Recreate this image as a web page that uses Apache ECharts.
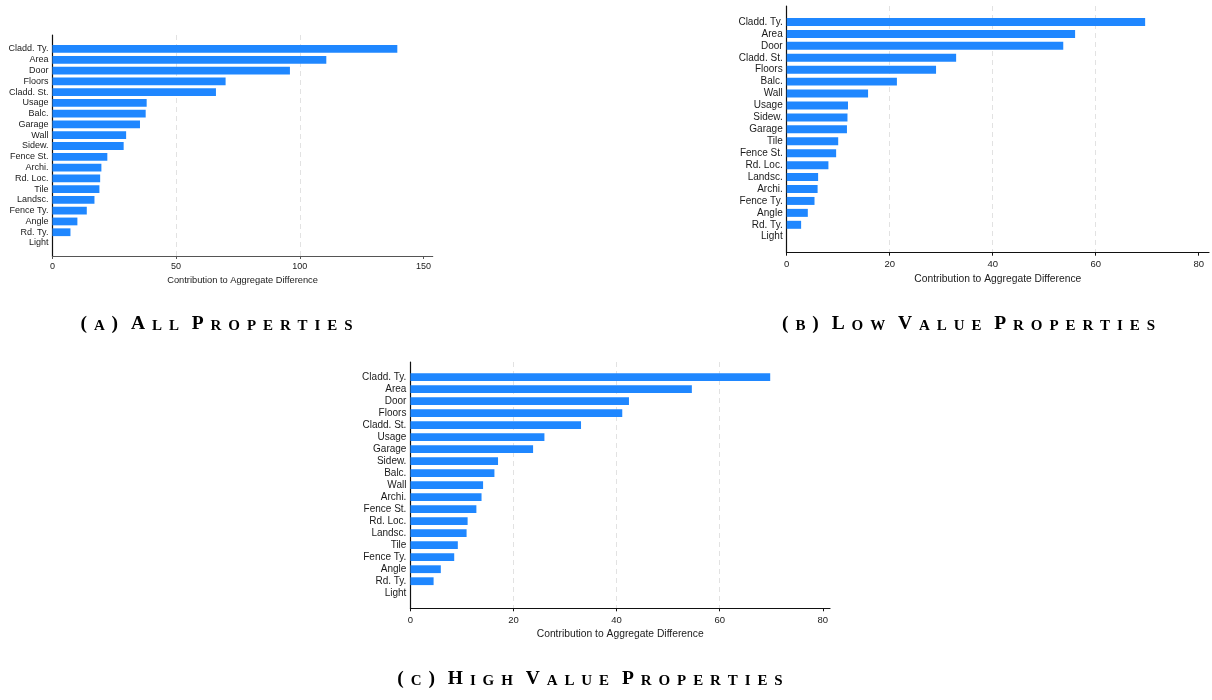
<!DOCTYPE html>
<html>
<head>
<meta charset="utf-8">
<script src="https://cdn.jsdelivr.net/npm/echarts@6/dist/echarts.min.js"></script>
<style>
  html, body { margin: 0; padding: 0; background: #ffffff; }
  #chart { width: 1212px; height: 700px; }
</style>
</head>
<body>
<div id="chart"></div>
<script>
// ---- data ---------------------------------------------------------------
const categoriesA = ['Cladd. Ty.', 'Area', 'Door', 'Floors', 'Cladd. St.', 'Usage', 'Balc.', 'Garage', 'Wall', 'Sidew.',
  'Fence St.', 'Archi.', 'Rd. Loc.', 'Tile', 'Landsc.', 'Fence Ty.', 'Angle', 'Rd. Ty.', 'Light'];
const valuesA = [139.4, 110.7, 96.0, 70.0, 66.1, 38.1, 37.7, 35.4, 29.8, 28.8,
  22.2, 19.8, 19.3, 19.0, 17.0, 13.9, 10.1, 7.3, 0];

const categoriesB = ['Cladd. Ty.', 'Area', 'Door', 'Cladd. St.', 'Floors', 'Balc.', 'Wall', 'Usage', 'Sidew.', 'Garage',
  'Tile', 'Fence St.', 'Rd. Loc.', 'Landsc.', 'Archi.', 'Fence Ty.', 'Angle', 'Rd. Ty.', 'Light'];
const valuesB = [69.6, 56.0, 53.7, 32.9, 29.0, 21.4, 15.8, 11.9, 11.8, 11.7,
  10.0, 9.6, 8.1, 6.1, 6.0, 5.4, 4.1, 2.8, 0];

const categoriesC = ['Cladd. Ty.', 'Area', 'Door', 'Floors', 'Cladd. St.', 'Usage', 'Garage', 'Sidew.', 'Balc.', 'Wall',
  'Archi.', 'Fence St.', 'Rd. Loc.', 'Landsc.', 'Tile', 'Fence Ty.', 'Angle', 'Rd. Ty.', 'Light'];
const valuesC = [69.8, 54.6, 42.4, 41.1, 33.1, 26.0, 23.8, 17.0, 16.3, 14.1,
  13.8, 12.8, 11.1, 10.9, 9.2, 8.5, 5.9, 4.5, 0];

const ticksA = [0, 50, 100, 150];
const ticksBC = [0, 20, 40, 60, 80];

const axisTitle = 'Contribution to Aggregate Difference';
const captionA = '(a) All Properties';
const captionB = '(b) Low Value Properties';
const captionC = '(c) High Value Properties';

// ---- styling & layout ---------------------------------------------------
const SANS = '"Liberation Sans", Arial, Helvetica, sans-serif';
const SERIF = '"Liberation Serif", "Times New Roman", serif';
const BAR_COLOR = '#1f87ff';
const TEXT_COLOR = '#1a1a1a';

const panels = [
  { cats: categoriesA, vals: valuesA, ticks: ticksA, interval: 50, max: 153.7,
    frame: { left: 52.4, top: 35, width: 380.3, height: 221 },
    band: { top: 43.6, height: 204.8 },
    catFont: 9, tickFont: 9, nameFont: 9.3, labelMargin: 6, nameGap: 20, gap: '28%', xLine: '#555555' },
  { cats: categoriesB, vals: valuesB, ticks: ticksBC, interval: 20, max: 82.0,
    frame: { left: 786.7, top: 6, width: 422.3, height: 246.7 },
    band: { top: 16, height: 226.7 },
    catFont: 10, tickFont: 9.5, nameFont: 10.3, labelMargin: 7, nameGap: 21, gap: '33%', xLine: '#111111' },
  { cats: categoriesC, vals: valuesC, ticks: ticksBC, interval: 20, max: 81.4,
    frame: { left: 410.4, top: 362, width: 419.6, height: 246.3 },
    band: { top: 371.2, height: 228 },
    catFont: 10, tickFont: 9.5, nameFont: 10.3, labelMargin: 7, nameGap: 21, gap: '35%', xLine: '#111111' }
];

const captions = [
  { text: captionA, x: 216.5, y: 324.2 },
  { text: captionB, x: 968.5, y: 324.2 },
  { text: captionC, x: 590, y: 679.2 }
];
const CAPTION_BIG = 19.5;
const CAPTION_SMALL = 15;
const CAPTION_TRACK = 6.9;
const CAPTION_SPACE = 6;

// Small capitals: capitals and punctuation at full size, lower-case letters as reduced capitals.
function smallCapsRich(text) {
  let out = '';
  for (const ch of text) {
    if (ch === ' ') out += '{sp|\u00a0}';
    else if (ch >= 'a' && ch <= 'z') out += '{s|' + ch.toUpperCase() + '}';
    else out += '{b|' + ch + '}';
  }
  return out;
}

const grid = [], xAxis = [], yAxis = [], series = [];

panels.forEach((p, i) => {
  const outer = 2 * i, inner = 2 * i + 1;
  // frame grid: axis lines, ticks, tick labels, dashed grid lines, axis title
  grid.push({ left: p.frame.left, top: p.frame.top, width: p.frame.width, height: p.frame.height,
    containLabel: false, outerBoundsMode: 'none' });
  // bar grid: the category band that holds the bars
  grid.push({ left: p.frame.left, top: p.band.top, width: p.frame.width, height: p.band.height,
    containLabel: false, outerBoundsMode: 'none' });

  xAxis.push({
    type: 'value', gridIndex: outer, min: 0, max: p.max, interval: p.interval,
    axisLine: { show: true, onZero: false, lineStyle: { color: p.xLine, width: 1.2 } },
    axisTick: { show: true, length: 3, inside: false, customValues: p.ticks, lineStyle: { color: p.xLine, width: 1 } },
    axisLabel: {
      show: true, customValues: p.ticks, margin: p.labelMargin,
      fontSize: p.tickFont, color: TEXT_COLOR, fontFamily: SANS,
      formatter: v => (p.ticks.indexOf(v) >= 0 ? String(v) : '')
    },
    splitLine: { show: true, showMinLine: false, showMaxLine: false,
      lineStyle: { color: '#e2e2e2', width: 1, type: [5, 4] } },
    name: axisTitle, nameLocation: 'middle', nameGap: p.nameGap,
    nameTextStyle: { fontSize: p.nameFont, color: TEXT_COLOR, fontFamily: SANS, verticalAlign: 'top' }
  });
  xAxis.push({ type: 'value', gridIndex: inner, min: 0, max: p.max, show: false });

  yAxis.push({
    type: 'value', gridIndex: outer, min: 0, max: 1,
    axisLine: { show: true, onZero: false, lineStyle: { color: '#111111', width: 1.2 } },
    axisTick: { show: false }, axisLabel: { show: false }, splitLine: { show: false }
  });
  yAxis.push({
    type: 'category', gridIndex: inner, data: p.cats, inverse: true,
    axisLine: { show: false }, axisTick: { show: false }, splitLine: { show: false },
    axisLabel: { show: true, interval: 0, margin: 4, fontSize: p.catFont, color: TEXT_COLOR, fontFamily: SANS }
  });

  series.push({
    type: 'bar', xAxisIndex: inner, yAxisIndex: inner, data: p.vals,
    barCategoryGap: p.gap, itemStyle: { color: BAR_COLOR }, silent: true
  });
});

const pad = [0, CAPTION_TRACK / 2, 0, CAPTION_TRACK / 2];
const graphic = captions.map(c => ({
  type: 'text', x: c.x, y: c.y, silent: true,
  style: {
    text: smallCapsRich(c.text), align: 'center', verticalAlign: 'middle',
    rich: {
      b: { fontFamily: SERIF, fontWeight: 'bold', fontSize: CAPTION_BIG, lineHeight: CAPTION_BIG,
           color: '#111111', verticalAlign: 'bottom', padding: pad },
      s: { fontFamily: SERIF, fontWeight: 'bold', fontSize: CAPTION_SMALL, lineHeight: CAPTION_BIG,
           color: '#111111', verticalAlign: 'bottom', padding: pad },
      sp: { fontFamily: SERIF, fontSize: CAPTION_BIG, lineHeight: CAPTION_BIG, width: CAPTION_SPACE }
    }
  }
}));

const chart = echarts.init(document.getElementById('chart'), null, { renderer: 'canvas' });
chart.setOption({
  animation: false,
  backgroundColor: '#ffffff',
  textStyle: { fontFamily: SANS },
  grid, xAxis, yAxis, series, graphic
});
</script>
</body>
</html>
